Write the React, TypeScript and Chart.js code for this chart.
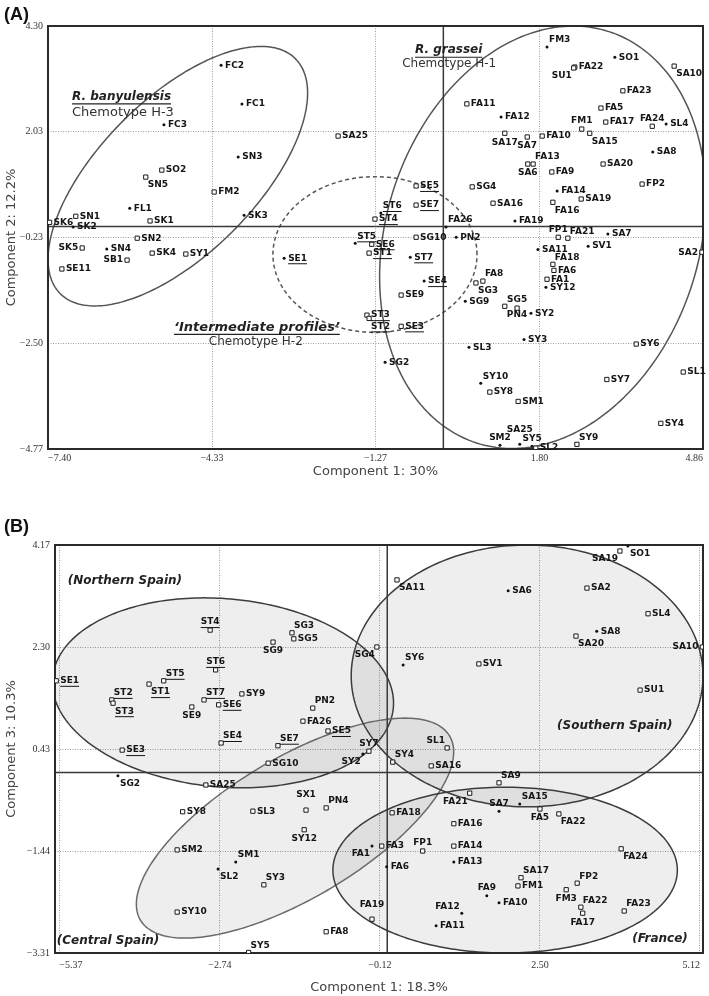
import React, { useEffect, useRef } from "react";
import { Chart, registerables } from "chart.js";

Chart.register(...registerables);

// ================= Panel A =================
const xTicksA = [-7.4, -4.33, -1.27, 1.8, 4.86];
const xTickLabelsA = ["\u22127.40", "\u22124.33", "\u22121.27", "1.80", "4.86"];
const yTicksA = [-4.77, -2.5, -0.23, 2.03, 4.3];
const yTickLabelsA = ["\u22124.77", "\u22122.50", "\u22120.23", "2.03", "4.30"];

const namesA = [
  "FC2", "FC1", "FC3", "SO2", "SN5", "SN3", "FM2", "FL1", "SK1", "SK3",
  "SK6", "SN1", "SK2", "SN2", "SK5", "SN4", "SB1", "SK4", "SY1", "SE11",
  "SA25", "SE5", "SE7", "ST6", "ST4", "FA26", "PN2", "ST5", "SE6", "ST1",
  "SG10", "ST7", "SE1", "SE4", "SE9", "ST3", "ST2", "SE3", "SG2", "FM3",
  "SO1", "FA22", "SU1", "SA10", "FA23", "FA11", "FA12", "FA5", "FA24", "SL4",
  "FA17", "FM1", "SA15", "FA10", "SA17", "SA7", "SA8", "FA13", "SA6", "SA20",
  "FA9", "FP2", "SG4", "FA14", "SA19", "FA16", "SA16", "FA19", "FP1", "FA21",
  "SA7", "SA11", "SV1", "SA2", "FA18", "FA6", "FA1", "SY12", "FA8", "SG3",
  "SG9", "PN4", "SG5", "SY2", "SY3", "SL3", "SY6", "SY7", "SL1", "SY10",
  "SY8", "SM1", "SY4", "SM2", "SA25", "SY5", "SL2", "SY9",
];
const xA = [
  -4.16, -3.77, -5.23, -5.27, -5.57, -3.84, -4.29, -5.87, -5.49, -3.73,
  -7.37, -6.88, -6.93, -5.73, -6.76, -6.3, -5.92, -5.45, -4.82, -7.14,
  -1.97, -0.51, -0.51, -1.17, -1.28, 0.05, 0.24, -1.65, -1.34, -1.39,
  -0.51, -0.62, -2.98, -0.36, -0.79, -1.43, -1.39, -0.79, -1.09, 1.94,
  3.21, 2.46, 2.44, 4.32, 3.36, 0.44, 1.08, 2.95, 3.91, 4.17,
  3.04, 2.59, 2.74, 1.85, 1.15, 1.57, 3.92, 1.68, 1.58, 2.99,
  2.03, 3.72, 0.54, 2.13, 2.58, 2.05, 0.93, 1.34, 2.15, 2.33,
  3.08, 1.77, 2.71, 4.84, 2.05, 2.07, 1.94, 1.92, 0.74, 0.61,
  0.41, 1.15, 1.38, 1.64, 1.51, 0.48, 3.61, 3.06, 4.49, 0.7,
  0.87, 1.4, 4.07, 1.06, 1.43, 1.66, 1.73, 2.5,
];
const yA = [
  3.46, 2.63, 2.18, 1.21, 1.06, 1.49, 0.74, 0.39, 0.12, 0.24,
  0.09, 0.22, -0.01, -0.25, -0.46, -0.48, -0.72, -0.57, -0.59, -0.91,
  1.94, 0.87, 0.46, 0.29, 0.16, -0.01, -0.23, -0.36, -0.38, -0.57,
  -0.23, -0.66, -0.68, -1.17, -1.47, -1.9, -1.97, -2.14, -2.91, 3.85,
  3.63, 3.42, 3.4, 3.44, 2.91, 2.63, 2.35, 2.54, 2.15, 2.2,
  2.24, 2.09, 2.0, 1.94, 2.0, 1.92, 1.6, 1.34, 1.34, 1.34,
  1.17, 0.91, 0.85, 0.76, 0.59, 0.52, 0.5, 0.12, -0.23, -0.25,
  -0.16, -0.49, -0.42, -0.55, -0.81, -0.94, -1.13, -1.3, -1.17, -1.21,
  -1.6, -1.71, -1.75, -1.86, -2.42, -2.59, -2.52, -3.28, -3.12, -3.36,
  -3.55, -3.75, -4.22, -4.69, -4.67, -4.71, -4.75, -4.67,
];

// ellipses: centre x, centre y, first semi-axis (dx, dy), second semi-axis (dx, dy) in data units
const ellipseBanyulensis = [-4.97, 1.08, 2.2, 2.52, 1.03, -1.18];
const ellipseIntermediate = [-1.28, -0.6, 1.91, 0, 0, 1.67];
const ellipseGrassei = [1.86, -0.23, 1.24, 4.41, 2.79, -1.03];

// ================= Panel B =================
const xTicksB = [-5.37, -2.74, -0.12, 2.5, 5.12];
const xTickLabelsB = ["\u22125.37", "\u22122.74", "\u22120.12", "2.50", "5.12"];
const yTicksB = [-3.31, -1.44, 0.43, 2.3, 4.17];
const yTickLabelsB = ["\u22123.31", "\u22121.44", "0.43", "2.30", "4.17"];

const namesB = [
  "SE1", "ST4", "ST6", "ST5", "ST1", "ST2", "ST3", "SE9", "ST7", "SE6",
  "SE4", "SA11", "SG3", "SG5", "SG9", "SG4", "SY6", "SY9", "PN2", "FA26",
  "SE5", "SO1", "SA19", "SA6", "SA2", "SL4", "SA8", "SA20", "SA10", "SV1",
  "SU1", "SE3", "SG2", "SA25", "SY8", "SM2", "SL2", "SY10", "SE7", "SG10",
  "SY7", "SY2", "SY4", "SL1", "SA16", "SX1", "PN4", "SL3", "FA18", "SY12",
  "FA1", "FA3", "FP1", "FA6", "SM1", "SY3", "FA19", "FA8", "SY5", "FA11",
  "FA12", "SA9", "FA21", "SA7", "SA15", "FA5", "FA22", "FA16", "FA14", "FA13",
  "SA17", "FM1", "FA9", "FA10", "FP2", "FM3", "FA22", "FA17", "FA24", "FA23",
];
const xB = [
  -5.42, -2.9, -2.81, -3.66, -3.9, -4.51, -4.49, -3.2, -3.0, -2.76,
  -2.72, 0.16, -1.56, -1.53, -1.87, -0.17, 0.26, -2.38, -1.22, -1.38,
  -0.97, 3.94, 3.81, 1.98, 3.27, 4.27, 3.43, 3.09, 5.16, 1.5,
  4.14, -4.34, -4.41, -2.97, -3.35, -3.44, -2.77, -3.44, -1.79, -1.95,
  -0.3, -0.4, 0.09, 0.98, 0.72, -1.33, -1.0, -2.2, 0.08, -1.36,
  -0.25, -0.09, 0.58, -0.01, -2.48, -2.02, -0.25, -1.0, -2.27, 0.8,
  1.22, 1.83, 1.35, 1.83, 2.17, 2.5, 2.81, 1.09, 1.09, 1.09,
  2.19, 2.14, 1.63, 1.83, 3.11, 2.93, 3.17, 3.2, 3.83, 3.88,
];
const yB = [
  1.68, 2.61, 1.88, 1.68, 1.62, 1.33, 1.27, 1.2, 1.33, 1.24,
  0.54, 3.53, 2.56, 2.45, 2.39, 2.3, 1.97, 1.44, 1.18, 0.94,
  0.76, 4.15, 4.06, 3.33, 3.38, 2.91, 2.59, 2.5, 2.3, 1.99,
  1.51, 0.41, -0.06, -0.23, -0.72, -1.42, -1.77, -2.56, 0.49, 0.17,
  0.39, 0.34, 0.19, 0.45, 0.12, -0.69, -0.65, -0.71, -0.74, -1.05,
  -1.35, -1.35, -1.44, -1.73, -1.64, -2.06, -2.69, -2.92, -3.3, -2.81,
  -2.58, -0.19, -0.38, -0.71, -0.58, -0.67, -0.76, -0.94, -1.35, -1.64,
  -1.93, -2.08, -2.26, -2.39, -2.03, -2.15, -2.47, -2.58, -1.4, -2.54,
];

const ellipseNorthern = [-2.69, 1.46, 2.79, -0.27, -0.13, -1.72];
const ellipseCentral = [-1.51, -1.02, 2.53, 1.69, 0.59, -1.1];
const ellipseSouthern = [2.29, 1.77, 2.88, 0, 0, 2.4];
const ellipseFrance = [1.93, -1.79, 2.82, 0, 0, 1.52];

// ================= Layout / style (kept apart from the data) =================
const labelPosA = [
  "r", "r", "r", "r", "br", "r", "r", "r", "r", "r",
  "r", "r", "r", "r", "l", "r", "l", "r", "r", "r",
  "r", "r", "r", "tr", "r", "tr", "r", "tr", "r", "r",
  "r", "r", "r", "r", "r", "r", "br", "r", "r", "tr",
  "r", "r", "bl", "br", "r", "r", "r", "r", "t", "r",
  "r", "t", "br", "r", "b", "b", "r", "tr", "b", "r",
  "r", "r", "r", "r", "r", "br", "r", "r", "t", "tr",
  "r", "r", "r", "l", "tr", "r", "r", "r", "tr", "br",
  "r", "br", "t", "r", "r", "r", "r", "r", "r", "tr",
  "r", "r", "r", "t", "tt", "t", "r", "tr",
];
const markerA = [
  "d", "d", "d", "s", "s", "d", "s", "d", "s", "d",
  "s", "s", "d", "s", "s", "d", "s", "s", "s", "s",
  "s", "s", "s", "d", "s", "d", "d", "d", "s", "s",
  "s", "d", "d", "d", "s", "s", "s", "s", "d", "d",
  "d", "s", "s", "s", "s", "s", "d", "s", "s", "d",
  "s", "s", "s", "s", "s", "s", "d", "s", "s", "s",
  "s", "s", "s", "d", "s", "s", "s", "d", "s", "s",
  "d", "d", "d", "s", "s", "s", "s", "d", "s", "s",
  "d", "s", "s", "d", "d", "d", "s", "s", "s", "d",
  "s", "s", "s", "d", "d", "d", "s", "s",
];
const labelPosB = [
  "r", "t", "t", "tr", "br", "tr", "br", "b", "tr", "r",
  "tr", "br", "tr", "r", "b", "bl", "tr", "r", "tr", "r",
  "r", "br", "bl", "r", "r", "r", "r", "br", "l", "r",
  "r", "r", "br", "r", "r", "r", "br", "r", "tr", "r",
  "t", "bl", "tr", "tl", "r", "tt", "tr", "r", "r", "b",
  "bl", "r", "t", "r", "tr", "tr", "tt", "r", "tr", "r",
  "tl", "tr", "bl", "t", "tr", "b", "br", "r", "r", "r",
  "tr", "r", "t", "r", "tr", "b", "tr", "b", "br", "tr",
];
const markerB = [
  "s", "s", "s", "s", "s", "s", "s", "s", "s", "s",
  "s", "s", "s", "s", "s", "s", "d", "s", "s", "s",
  "s", "d", "s", "d", "s", "s", "d", "s", "s", "s",
  "s", "s", "d", "s", "s", "s", "d", "s", "s", "s",
  "s", "d", "s", "s", "s", "s", "s", "s", "s", "s",
  "d", "s", "s", "d", "d", "s", "s", "s", "s", "d",
  "d", "s", "s", "d", "d", "s", "s", "s", "s", "d",
  "s", "s", "d", "d", "s", "s", "s", "s", "s", "s",
];

const SANS = '"DejaVu Sans", Verdana, sans-serif';
const SERIF = '"Liberation Serif", "DejaVu Serif", serif';

const OFF: Record<string, [number, number, CanvasTextAlign]> = {
  r: [4, 0, "left"],
  l: [-4, 0, "right"],
  t: [0, -8, "center"],
  tt: [0, -15, "center"],
  b: [0, 9, "center"],
  tr: [2, -7, "left"],
  br: [2, 8, "left"],
  tl: [-2, -7, "right"],
  bl: [-2, 8, "right"],
};

type Note = { text: string; x: number; y: number; font: string; underline?: boolean; color: string };
type EllipseStyle = { e: number[]; stroke: string; width: number; dash?: number[]; fill?: string };

type Panel = {
  names: string[];
  xs: number[];
  ys: number[];
  pos: string[];
  marks: string[];
  xTicks: number[];
  xLabels: string[];
  yTicks: number[];
  yLabels: string[];
  xMin: number;
  xMax: number;
  yMin: number;
  yMax: number;
  xTitle: string;
  yTitle: string;
  padding: { left: number; top: number; right: number; bottom: number };
  yWidth: number;
  xHeight: number;
  xTickPad: number;
  ellipses: EllipseStyle[];
  notes: Note[];
  letter: string;
  letterY: number;
};

const notesA: Note[] = [
  { text: "R. banyulensis", x: -6.95, y: 2.78, font: `italic bold 12px ${SANS}`, underline: true, color: "#222" },
  { text: "Chemotype H-3", x: -6.95, y: 2.45, font: `13px ${SANS}`, color: "#333" },
  { text: "R. grassei", x: -0.53, y: 3.78, font: `italic bold 12px ${SANS}`, underline: true, color: "#222" },
  { text: "Chemotype H-1", x: -0.77, y: 3.48, font: `12px ${SANS}`, color: "#333" },
  { text: "\u2018Intermediate profiles\u2019", x: -5.04, y: -2.16, font: `italic bold 13px ${SANS}`, underline: true, color: "#222" },
  { text: "Chemotype H-2", x: -4.39, y: -2.48, font: `12px ${SANS}`, color: "#333" },
];

const notesB: Note[] = [
  { text: "(Northern Spain)", x: -5.23, y: 3.51, font: `italic bold 12px ${SANS}`, color: "#222" },
  { text: "(Southern Spain)", x: 2.78, y: 0.85, font: `italic bold 12px ${SANS}`, color: "#222" },
  { text: "(Central Spain)", x: -5.41, y: -3.09, font: `italic bold 12px ${SANS}`, color: "#222" },
  { text: "(France)", x: 4.01, y: -3.05, font: `italic bold 12px ${SANS}`, color: "#222" },
];

function tracePath(chart: any, e: number[]) {
  const { ctx, scales } = chart;
  const sx = scales.x;
  const sy = scales.y;
  ctx.beginPath();
  const n = 240;
  for (let i = 0; i <= n; i++) {
    const t = (i / n) * Math.PI * 2;
    const dx = e[0] + e[2] * Math.cos(t) + e[4] * Math.sin(t);
    const dy = e[1] + e[3] * Math.cos(t) + e[5] * Math.sin(t);
    const px = sx.getPixelForValue(dx);
    const py = sy.getPixelForValue(dy);
    if (i === 0) ctx.moveTo(px, py);
    else ctx.lineTo(px, py);
  }
  ctx.closePath();
}

function makePlugin(p: Panel) {
  return {
    id: "panelDecor",
    beforeDatasetsDraw(chart: any) {
      const { ctx, chartArea: a, scales } = chart;
      ctx.save();
      ctx.beginPath();
      ctx.rect(a.left, a.top, a.right - a.left, a.bottom - a.top);
      ctx.clip();
      p.ellipses.forEach((s) => {
        if (s.fill) {
          tracePath(chart, s.e);
          ctx.fillStyle = s.fill;
          ctx.fill();
        }
      });
      p.ellipses.forEach((s) => {
        tracePath(chart, s.e);
        ctx.setLineDash(s.dash || []);
        ctx.lineWidth = s.width;
        ctx.strokeStyle = s.stroke;
        ctx.stroke();
      });
      ctx.restore();

      // zero axes
      ctx.save();
      const zx = scales.x.getPixelForValue(0);
      const zy = scales.y.getPixelForValue(0);
      ctx.strokeStyle = "#3a3a3a";
      ctx.lineWidth = 1.5;
      ctx.beginPath();
      ctx.moveTo(zx, a.top);
      ctx.lineTo(zx, a.bottom);
      ctx.moveTo(a.left, zy);
      ctx.lineTo(a.right, zy);
      ctx.stroke();
      // frame
      ctx.lineWidth = 2;
      ctx.strokeStyle = "#2a2a2a";
      ctx.strokeRect(a.left, a.top, a.right - a.left, a.bottom - a.top);
      ctx.restore();
    },
    afterDatasetsDraw(chart: any) {
      const { ctx, scales } = chart;
      const meta = chart.getDatasetMeta(0);
      ctx.save();
      ctx.font = `bold 9px ${SANS}`;
      ctx.fillStyle = "#151515";
      ctx.strokeStyle = "#151515";
      ctx.textBaseline = "middle";
      meta.data.forEach((el: any, i: number) => {
        const name = p.names[i];
        const o = OFF[p.pos[i]] || OFF.r;
        const lx = el.x + o[0];
        const ly = el.y + o[1];
        ctx.textAlign = o[2];
        ctx.fillText(name, lx, ly);
        if (/^S[TE][1-7]$/.test(name)) {
          const w = ctx.measureText(name).width;
          const x0 = o[2] === "left" ? lx : o[2] === "right" ? lx - w : lx - w / 2;
          ctx.lineWidth = 1;
          ctx.beginPath();
          ctx.moveTo(x0, ly + 5.5);
          ctx.lineTo(x0 + w, ly + 5.5);
          ctx.stroke();
        }
      });
      // notes
      ctx.textAlign = "left";
      p.notes.forEach((n) => {
        const px = scales.x.getPixelForValue(n.x);
        const py = scales.y.getPixelForValue(n.y);
        ctx.font = n.font;
        ctx.fillStyle = n.color;
        ctx.fillText(n.text, px, py);
        if (n.underline) {
          const w = ctx.measureText(n.text).width;
          ctx.strokeStyle = n.color;
          ctx.lineWidth = 1.2;
          ctx.beginPath();
          ctx.moveTo(px, py + 7);
          ctx.lineTo(px + w, py + 7);
          ctx.stroke();
        }
      });
      // panel letter
      ctx.font = 'bold 18px "Liberation Sans", Arial, sans-serif';
      ctx.fillStyle = "#111";
      ctx.textAlign = "left";
      ctx.fillText(p.letter, 4, p.letterY);
      ctx.restore();
    },
  };
}

function buildConfig(p: Panel): any {
  const gridColor = (min: number, max: number) => (c: any) => {
    const v = c.tick ? c.tick.value : undefined;
    if (v === undefined || Math.abs(v - min) < 1e-6 || Math.abs(v - max) < 1e-6) return "rgba(0,0,0,0)";
    return "#9c9c9c";
  };
  return {
    type: "scatter",
    data: {
      datasets: [
        {
          data: p.xs.map((v, i) => ({ x: v, y: p.ys[i] })),
          pointStyle: (c: any) => (p.marks[c.dataIndex] === "d" ? "circle" : "rect"),
          pointRadius: (c: any) => (p.marks[c.dataIndex] === "d" ? 1.5 : 3),
          backgroundColor: (c: any) => (p.marks[c.dataIndex] === "d" ? "#111" : "#fff"),
          borderColor: "#1a1a1a",
          borderWidth: (c: any) => (p.marks[c.dataIndex] === "d" ? 0 : 1),
        },
      ],
    },
    options: {
      responsive: false,
      maintainAspectRatio: false,
      animation: false,
      devicePixelRatio: 1,
      events: [],
      layout: { padding: p.padding },
      plugins: { legend: { display: false }, tooltip: { enabled: false }, title: { display: false } },
      scales: {
        x: {
          type: "linear",
          min: p.xMin,
          max: p.xMax,
          afterBuildTicks: (s: any) => {
            s.ticks = p.xTicks.map((v) => ({ value: v }));
          },
          afterFit: (s: any) => {
            s.height = p.xHeight;
            s.paddingLeft = 0;
            s.paddingRight = 0;
          },
          ticks: {
            autoSkip: false,
            maxRotation: 0,
            minRotation: 0,
            align: "inner",
            padding: p.xTickPad,
            color: "#333",
            font: { family: SERIF, size: 10 },
            callback: (_v: any, i: number) => p.xLabels[i],
          },
          grid: { drawTicks: false, color: gridColor(p.xMin, p.xMax), lineWidth: 1 },
          border: { display: false, dash: [1, 1.5] },
          title: {
            display: true,
            text: p.xTitle,
            color: "#444",
            font: { family: SANS, size: 13 },
            padding: 0,
          },
        },
        y: {
          type: "linear",
          min: p.yMin,
          max: p.yMax,
          afterBuildTicks: (s: any) => {
            s.ticks = p.yTicks.map((v) => ({ value: v }));
          },
          afterFit: (s: any) => {
            s.width = p.yWidth;
            s.paddingTop = 0;
            s.paddingBottom = 0;
          },
          ticks: {
            autoSkip: false,
            padding: 5,
            color: "#333",
            font: { family: SERIF, size: 10 },
            callback: (_v: any, i: number) => p.yLabels[i],
          },
          grid: { drawTicks: false, color: gridColor(p.yMin, p.yMax), lineWidth: 1 },
          border: { display: false, dash: [1, 1.5] },
          title: {
            display: true,
            text: p.yTitle,
            color: "#444",
            font: { family: SANS, size: 13 },
            padding: 0,
          },
        },
      },
    },
    plugins: [makePlugin(p)],
  };
}

const panelA: Panel = {
  names: namesA,
  xs: xA,
  ys: yA,
  pos: labelPosA,
  marks: markerA,
  xTicks: xTicksA,
  xLabels: xTickLabelsA,
  yTicks: yTicksA,
  yLabels: yTickLabelsA,
  xMin: -7.4,
  xMax: 4.86,
  yMin: -4.77,
  yMax: 4.3,
  xTitle: "Component 1: 30%",
  yTitle: "Component 2: 12.2%",
  padding: { left: 4, top: 26, right: 6, bottom: 16 },
  yWidth: 44,
  xHeight: 30,
  xTickPad: 3,
  ellipses: [
    { e: ellipseBanyulensis, stroke: "#555", width: 1.5 },
    { e: ellipseIntermediate, stroke: "#555", width: 1.5, dash: [4, 3] },
    { e: ellipseGrassei, stroke: "#555", width: 1.5 },
  ],
  notes: notesA,
  letter: "(A)",
  letterY: 15,
};

const panelB: Panel = {
  names: namesB,
  xs: xB,
  ys: yB,
  pos: labelPosB,
  marks: markerB,
  xTicks: xTicksB,
  xLabels: xTickLabelsB,
  yTicks: yTicksB,
  yLabels: yTickLabelsB,
  xMin: -5.44,
  xMax: 5.17,
  yMin: -3.31,
  yMax: 4.17,
  xTitle: "Component 1: 18.3%",
  yTitle: "Component 3: 10.3%",
  padding: { left: 4, top: 53, right: 6, bottom: 1 },
  yWidth: 51,
  xHeight: 42,
  xTickPad: 6,
  ellipses: [
    { e: ellipseNorthern, stroke: "#3c3c3c", width: 1.5, fill: "rgba(0,0,0,0.065)" },
    { e: ellipseCentral, stroke: "#6a6a6a", width: 1.5, fill: "rgba(0,0,0,0.065)" },
    { e: ellipseSouthern, stroke: "#3c3c3c", width: 1.5, fill: "rgba(0,0,0,0.065)" },
    { e: ellipseFrance, stroke: "#3c3c3c", width: 1.5, fill: "rgba(0,0,0,0.065)" },
  ],
  notes: notesB,
  letter: "(B)",
  letterY: 35,
};

function PanelChart({ panel, top, height }: { panel: Panel; top: number; height: number }) {
  const ref = useRef<HTMLCanvasElement>(null);
  useEffect(() => {
    if (!ref.current) return;
    const chart = new Chart(ref.current, buildConfig(panel));
    return () => chart.destroy();
  }, [panel]);
  return (
    <canvas
      ref={ref}
      width={709}
      height={height}
      style={{ position: "absolute", left: 0, top, width: 709, height, display: "block" }}
    />
  );
}

export default function App() {
  return (
    <div
      style={{
        position: "absolute",
        left: 0,
        top: 0,
        width: 709,
        height: 996,
        overflow: "hidden",
        background: "#fff",
      }}
    >
      <PanelChart panel={panelA} top={0} height={495} />
      <PanelChart panel={panelB} top={492} height={504} />
    </div>
  );
}
